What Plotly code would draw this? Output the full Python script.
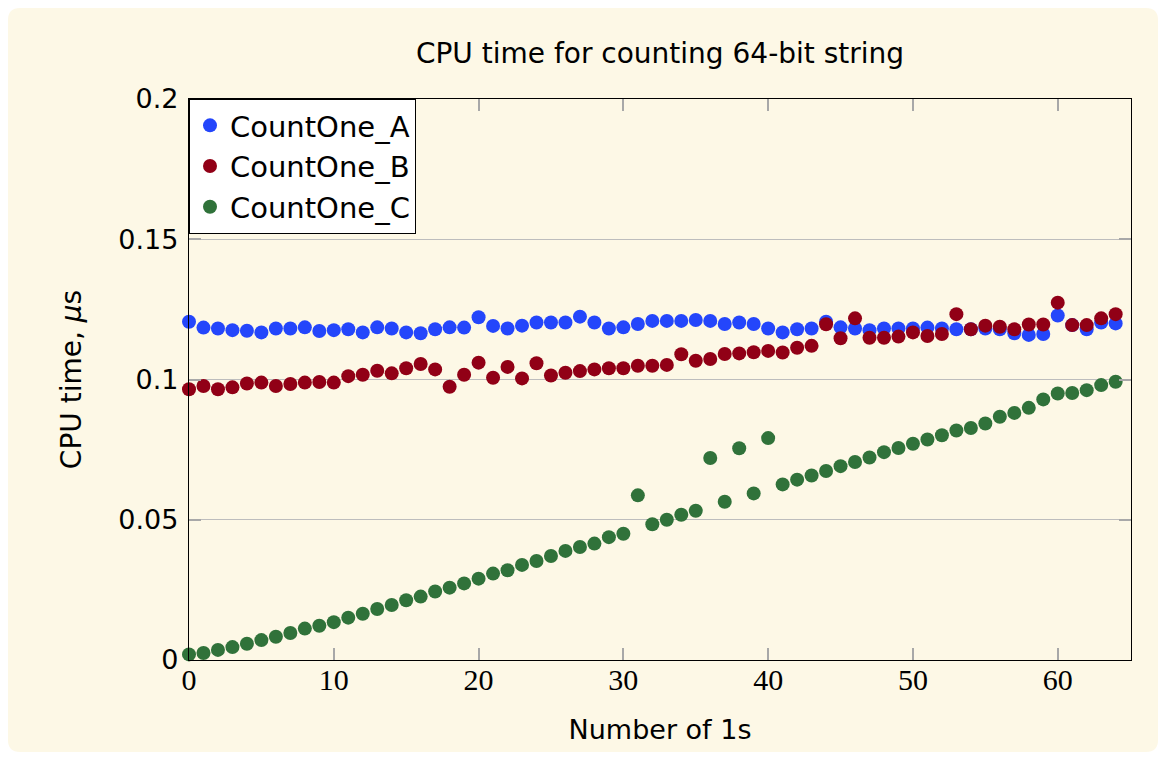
import plotly.graph_objects as go

n_ones = list(range(65))

count_one_a = [
    0.1206, 0.1185, 0.1182, 0.1176, 0.1174, 0.1168, 0.1182, 0.1182, 0.1186, 0.1173,
    0.1176, 0.1179, 0.1168, 0.1186, 0.1182, 0.1168, 0.1165, 0.1179, 0.1186, 0.1185,
    0.1222, 0.1191, 0.1182, 0.1192, 0.1203, 0.1203, 0.1203, 0.1224, 0.1203, 0.1182,
    0.1186, 0.1198, 0.1209, 0.1209, 0.1209, 0.1212, 0.1209, 0.1198, 0.1203, 0.1198,
    0.1182, 0.1168, 0.1179, 0.1182, 0.1206, 0.1186, 0.1182, 0.1176, 0.1182, 0.1182,
    0.1182, 0.1185, 0.1182, 0.1179, 0.1179, 0.1182, 0.1179, 0.1165, 0.1159, 0.1162,
    0.1228, 0.1194, 0.1179, 0.1203, 0.1200,
]

count_one_b = [
    0.0965, 0.0977, 0.0965, 0.0972, 0.0986, 0.0989, 0.0977, 0.0984, 0.0989, 0.0991,
    0.0989, 0.1012, 0.1017, 0.1031, 0.1022, 0.1040, 0.1055, 0.1036, 0.0974, 0.1017,
    0.1060, 0.1006, 0.1045, 0.1004, 0.1058, 0.1014, 0.1024, 0.1030, 0.1036, 0.1040,
    0.1040, 0.1049, 0.1049, 0.1052, 0.1090, 0.1067, 0.1073, 0.1091, 0.1093, 0.1097,
    0.1102, 0.1096, 0.1113, 0.1120, 0.1197, 0.1147, 0.1218, 0.1149, 0.1149, 0.1153,
    0.1168, 0.1155, 0.1162, 0.1233, 0.1179, 0.1192, 0.1188, 0.1179, 0.1196, 0.1196,
    0.1274, 0.1194, 0.1194, 0.1218, 0.1233,
]

count_one_c = [
    0.0020, 0.0025, 0.0036, 0.0046, 0.0058, 0.0071, 0.0083, 0.0096, 0.0112, 0.0122,
    0.0135, 0.0151, 0.0165, 0.0182, 0.0196, 0.0213, 0.0226, 0.0244, 0.0258, 0.0273,
    0.0290, 0.0308, 0.0320, 0.0339, 0.0353, 0.0371, 0.0389, 0.0403, 0.0415, 0.0438,
    0.0450, 0.0587, 0.0484, 0.0500, 0.0518, 0.0532, 0.0720, 0.0564, 0.0755, 0.0594,
    0.0791, 0.0626, 0.0643, 0.0658, 0.0674, 0.0691, 0.0706, 0.0722, 0.0741, 0.0756,
    0.0771, 0.0786, 0.0801, 0.0818, 0.0827, 0.0843, 0.0867, 0.0881, 0.0899, 0.0929,
    0.0950, 0.0952, 0.0962, 0.0980, 0.0992,
]

series_names = ["CountOne_A", "CountOne_B", "CountOne_C"]
series_colors = ["#2446fb", "#910016", "#30723a"]

x_tickvals = [0, 10, 20, 30, 40, 50, 60]
y_tickvals = [0, 0.05, 0.1, 0.15, 0.2]
y_ticktext = ["0", "0.05", "0.1", "0.15", "0.2"]

CREAM = "#fdf8e6"
W, H = 1150, 744
L, R, T, B = 181, 27, 91, 92
PW, PH = W - L - R, H - T - B


def px2paper(px, py):
    return (px - L) / PW, (H - B - py) / PH


def rounded_rect_path(x0, y0, x1, y1, r):
    def p(px, py):
        X, Y = px2paper(px, py)
        return f"{X:.5f},{Y:.5f}"
    return (
        f"M {p(x0 + r, y0)} L {p(x1 - r, y0)} Q {p(x1, y0)} {p(x1, y0 + r)} "
        f"L {p(x1, y1 - r)} Q {p(x1, y1)} {p(x1 - r, y1)} "
        f"L {p(x0 + r, y1)} Q {p(x0, y1)} {p(x0, y1 - r)} "
        f"L {p(x0, y0 + r)} Q {p(x0, y0)} {p(x0 + r, y0)} Z"
    )


fig = go.Figure()
for name, ys, col in zip(series_names, [count_one_a, count_one_b, count_one_c], series_colors):
    fig.add_trace(go.Scatter(
        x=n_ones, y=ys, mode="markers", name=name,
        marker=dict(color=col, size=14, line=dict(width=0)),
        cliponaxis=False,
    ))

SANS = "DejaVu Sans"
SERIF = "Liberation Serif"

fig.update_layout(
    width=W, height=H,
    margin=dict(l=L, r=R, t=T, b=B),
    paper_bgcolor="white",
    plot_bgcolor=CREAM,
    shapes=[dict(
        type="path", xref="paper", yref="paper",
        path=rounded_rect_path(0, 0, W, H, 12),
        fillcolor=CREAM, line=dict(width=0), layer="below",
    )],
    title=dict(
        text="CPU time for counting 64-bit string",
        font=dict(family=SANS, size=28, color="black"),
        x=0.5, xref="paper", xanchor="center",
        y=1 - 45 / H, yref="container", yanchor="middle",
    ),
    showlegend=True,
    legend=dict(
        x=0, y=1, xanchor="left", yanchor="top",
        bgcolor="white", bordercolor="black", borderwidth=1,
        font=dict(family=SANS, size=29, color="black"),
        itemwidth=30, tracegroupgap=0,
    ),
    xaxis=dict(
        range=[0, 65.06],
        tickvals=x_tickvals,
        ticks="inside", ticklen=12, tickwidth=1.5, tickcolor="#a8a8a8",
        showline=True, linecolor="black", linewidth=1.3, mirror="allticks",
        showgrid=False, zeroline=False,
        tickfont=dict(family=SERIF, size=30, color="black"),
        ticklabelstandoff=-7,
        title=dict(text="Number of 1s", font=dict(family=SANS, size=27, color="black"), standoff=24),
    ),
    yaxis=dict(
        range=[0, 0.2],
        tickvals=y_tickvals, ticktext=y_ticktext,
        ticks="inside", ticklen=12, tickwidth=1.5, tickcolor="#a8a8a8",
        showline=True, linecolor="black", linewidth=1.3, mirror="allticks",
        showgrid=True, gridcolor="#bdbdbd", gridwidth=1,
        zeroline=False,
        tickfont=dict(family=SANS, size=27, color="black"),
        ticklabelstandoff=4,
        title=dict(text="CPU time, <i>μ</i>s", font=dict(family=SANS, size=28, color="black"), standoff=28),
    ),
)

fig.write_html("out.html")
